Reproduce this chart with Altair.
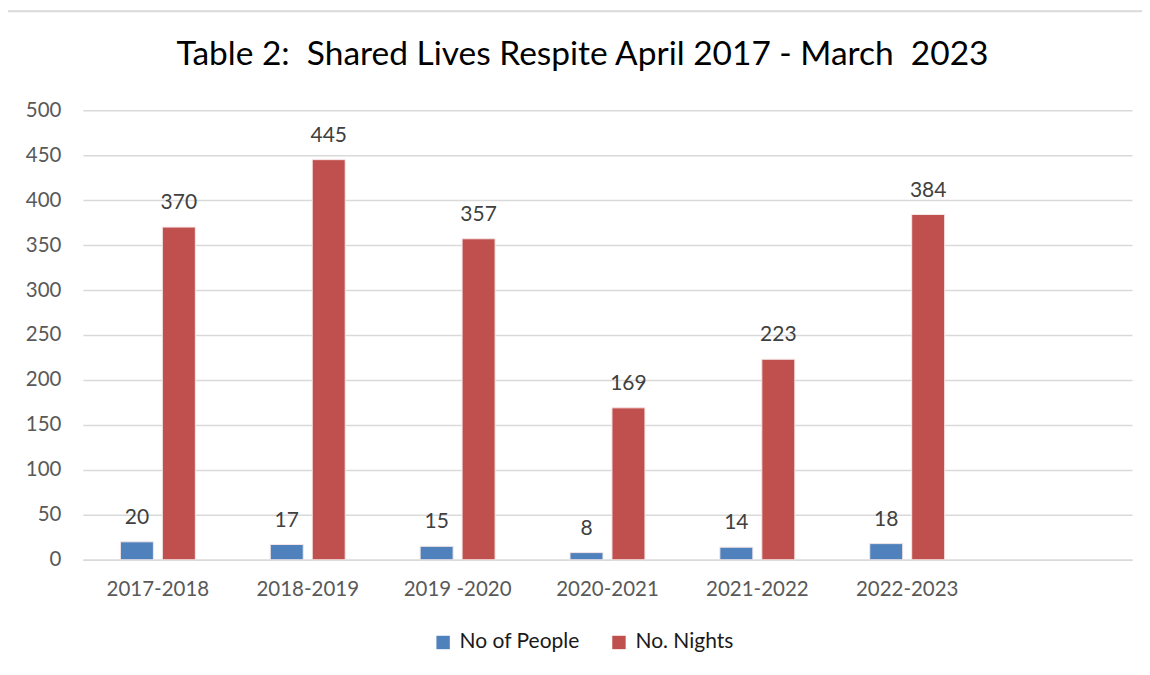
import altair as alt
import pandas as pd

title_text = "Table 2:\u00a0 Shared Lives Respite April 2017 - March\u00a0 2023"
categories = ["2017-2018", "2018-2019", "2019 -2020", "2020-2021", "2021-2022", "2022-2023"]
people = [20, 17, 15, 8, 14, 18]
nights = [370, 445, 357, 169, 223, 384]
series_names = ["No of People", "No. Nights"]
colors = ["#4F81BD", "#C0504D"]
y_ticks = list(range(0, 501, 50))
x_domain = categories + [" "]

rows = []
for c, p, n in zip(categories, people, nights):
    rows.append({"Year": c, "Series": series_names[0], "Value": p})
    rows.append({"Year": c, "Series": series_names[1], "Value": n})
df = pd.DataFrame(rows)

FONT = "Lato"

x_enc = alt.X("Year:N", sort=x_domain,
              scale=alt.Scale(domain=x_domain, paddingInner=0.5, paddingOuter=0.25),
              axis=alt.Axis(title=None, labelAngle=0, labelFontSize=20.5, labelColor="#595959",
                            labelFont=FONT, labelPadding=20, ticks=False, domain=True,
                            domainColor="#d9d9d9", domainWidth=1.5, grid=False))
xoff = alt.XOffset("Series:N", sort=series_names,
                   scale=alt.Scale(paddingInner=0.214, paddingOuter=0))
y_enc = alt.Y("Value:Q", scale=alt.Scale(domain=[0, 500], nice=False),
              axis=alt.Axis(title=None, values=y_ticks, labelFontSize=20.5, labelColor="#595959",
                            labelFont=FONT, labelPadding=22, ticks=False, domain=False,
                            grid=True, gridColor="#d9d9d9", gridWidth=1.5))
color_enc = alt.Color("Series:N", sort=series_names,
                      scale=alt.Scale(domain=series_names, range=colors),
                      legend=alt.Legend(title=None, orient="none", direction="horizontal",
                                        legendX=350, legendY=522, symbolType="square",
                                        symbolSize=180, symbolStrokeWidth=0,
                                        labelFontSize=21, labelFont=FONT, labelColor="#1a1a1a",
                                        columnPadding=28, labelOffset=6))

frame = alt.Chart(pd.DataFrame({"a": [0]})).mark_rect(
    fill=None, stroke="#d9d9d9", strokeWidth=2
).encode(x=alt.value(-76), x2=alt.value(1120), y=alt.value(-99), y2=alt.value(620))

title = alt.Chart(pd.DataFrame({"t": [title_text]})).mark_text(
    fontSize=33.5, font=FONT, color="#000000", align="center", baseline="middle"
).encode(x=alt.value(500), y=alt.value(-55), text="t:N")

bars = alt.Chart(df).mark_bar(stroke="#f5e6e6", strokeWidth=1).encode(
    x=x_enc, xOffset=xoff, y=y_enc, color=color_enc
)
labels = alt.Chart(df).mark_text(dy=-24, fontSize=21, font=FONT, color="#404040",
                                 baseline="middle").encode(
    x=alt.X("Year:N", sort=x_domain), xOffset=alt.XOffset("Series:N", sort=series_names),
    y="Value:Q", text="Value:Q"
)

chart = alt.layer(frame, title, bars, labels).properties(
    width=1050, height=450,
    autosize=alt.AutoSizeParams(type="none"),
    padding={"left": 75, "top": 102, "right": 10, "bottom": 100},
).configure_view(stroke=None)

chart.save("out.html", embed_options={"renderer": "svg", "actions": False})
